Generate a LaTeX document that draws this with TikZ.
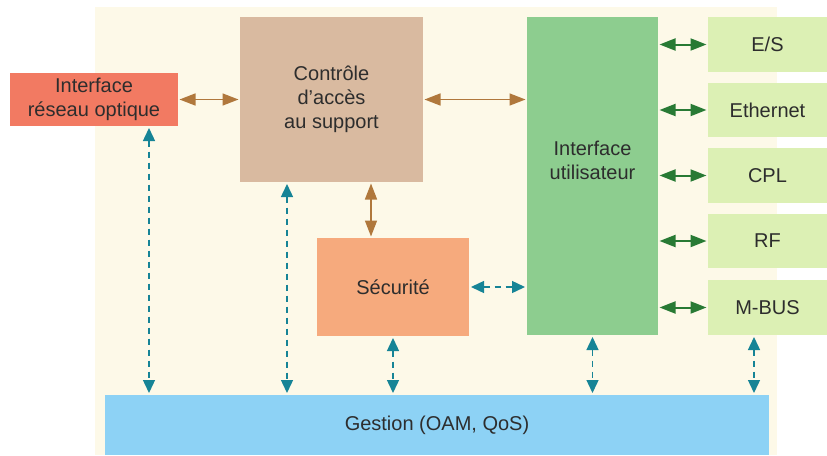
\documentclass[tikz,border=0pt]{standalone}
\usepackage{fontspec}
\setmainfont{Liberation Sans}
\usetikzlibrary{arrows.meta}
\definecolor{cream}{RGB}{253,249,232}
\definecolor{optc}{RGB}{242,122,98}
\definecolor{casc}{RGB}{217,186,160}
\definecolor{uic}{RGB}{141,205,143}
\definecolor{portc}{RGB}{220,240,180}
\definecolor{secc}{RGB}{246,170,125}
\definecolor{gestc}{RGB}{141,210,245}
\definecolor{brn}{RGB}{176,120,60}
\definecolor{grn}{RGB}{40,122,52}
\definecolor{teal2}{RGB}{22,132,150}
\definecolor{txt}{RGB}{45,45,45}
\begin{document}
\begin{tikzpicture}[x=1pt,y=-1pt,
  box/.style={draw=none, inner sep=0pt, outer sep=0pt, align=center, text=txt,
    font=\fontsize{20}{24}\selectfont},
  brownarr/.style={draw=brn, line width=1.5pt,
    {Triangle[length=16pt,width=12pt]}-{Triangle[length=16pt,width=12pt]},
    shorten <=1.5pt, shorten >=1.5pt},
  greenarr/.style={draw=grn, line width=2pt,
    {Triangle[length=16pt,width=12pt]}-{Triangle[length=16pt,width=12pt]},
    shorten <=1.5pt, shorten >=1.5pt},
  tealarr/.style={draw=teal2, line width=1.4pt, dash pattern=on 6pt off 5pt,
    {Triangle[length=13pt,width=12pt]}-{Triangle[length=13pt,width=12pt]},
    shorten <=2pt, shorten >=2pt}]
\useasboundingbox (0,0) rectangle (827,455);
\fill[cream] (95,7) rectangle (777,455);

\node[box, fill=optc, minimum width=168pt, minimum height=53pt] (opt) at (94,99.5) {Interface\\réseau optique};
\node[box, fill=casc, minimum width=183pt, minimum height=165pt] (cas) at (331.5,99.5) {Contrôle\\d'accès\\au support};
\node[box, fill=uic, minimum width=131pt, minimum height=318pt,
  label={[box, yshift=16pt]center:Interface\\utilisateur}] (ui) at (592.5,176) {};
\node[box, fill=secc, minimum width=152pt, minimum height=98pt] (sec) at (393,287) {Sécurité};
\node[box, fill=gestc, minimum width=664pt, minimum height=60pt] (gest) at (437,425) {Gestion (OAM, QoS)};

\node[box, fill=portc, minimum width=119pt, minimum height=55pt] (es) at (767.5,44.5) {E/S};
\node[box, fill=portc, minimum width=119pt, minimum height=54pt] (eth) at (767.5,110) {Ethernet};
\node[box, fill=portc, minimum width=119pt, minimum height=55pt] (cpl) at (767.5,175.5) {CPL};
\node[box, fill=portc, minimum width=119pt, minimum height=54pt] (rf) at (767.5,241) {RF};
\node[box, fill=portc, minimum width=119pt, minimum height=55pt] (mbus) at (767.5,307.5) {M-BUS};

\coordinate (xb) at (371,0);
\coordinate (x1) at (149,0);
\coordinate (x2) at (287,0);
\coordinate (x5) at (754,0);

\draw[brownarr] (opt.east) -- (cas.west);
\draw[brownarr] (cas.east) -- (ui.west |- cas.east);
\draw[brownarr] (xb |- cas.south) -- (xb |- sec.north);

\foreach \p in {es,eth,cpl,rf,mbus}
  \draw[greenarr] (ui.east |- \p.west) -- (\p.west);

\draw[tealarr] (sec.east) -- (ui.west |- sec.east);
\draw[tealarr] (x1 |- opt.south) -- (x1 |- gest.north);
\draw[tealarr] (x2 |- cas.south) -- (x2 |- gest.north);
\draw[tealarr] (sec.south) -- (sec.south |- gest.north);
\draw[tealarr] (ui.south) -- (ui.south |- gest.north);
\draw[tealarr] (x5 |- mbus.south) -- (x5 |- gest.north);
\end{tikzpicture}
\end{document}
